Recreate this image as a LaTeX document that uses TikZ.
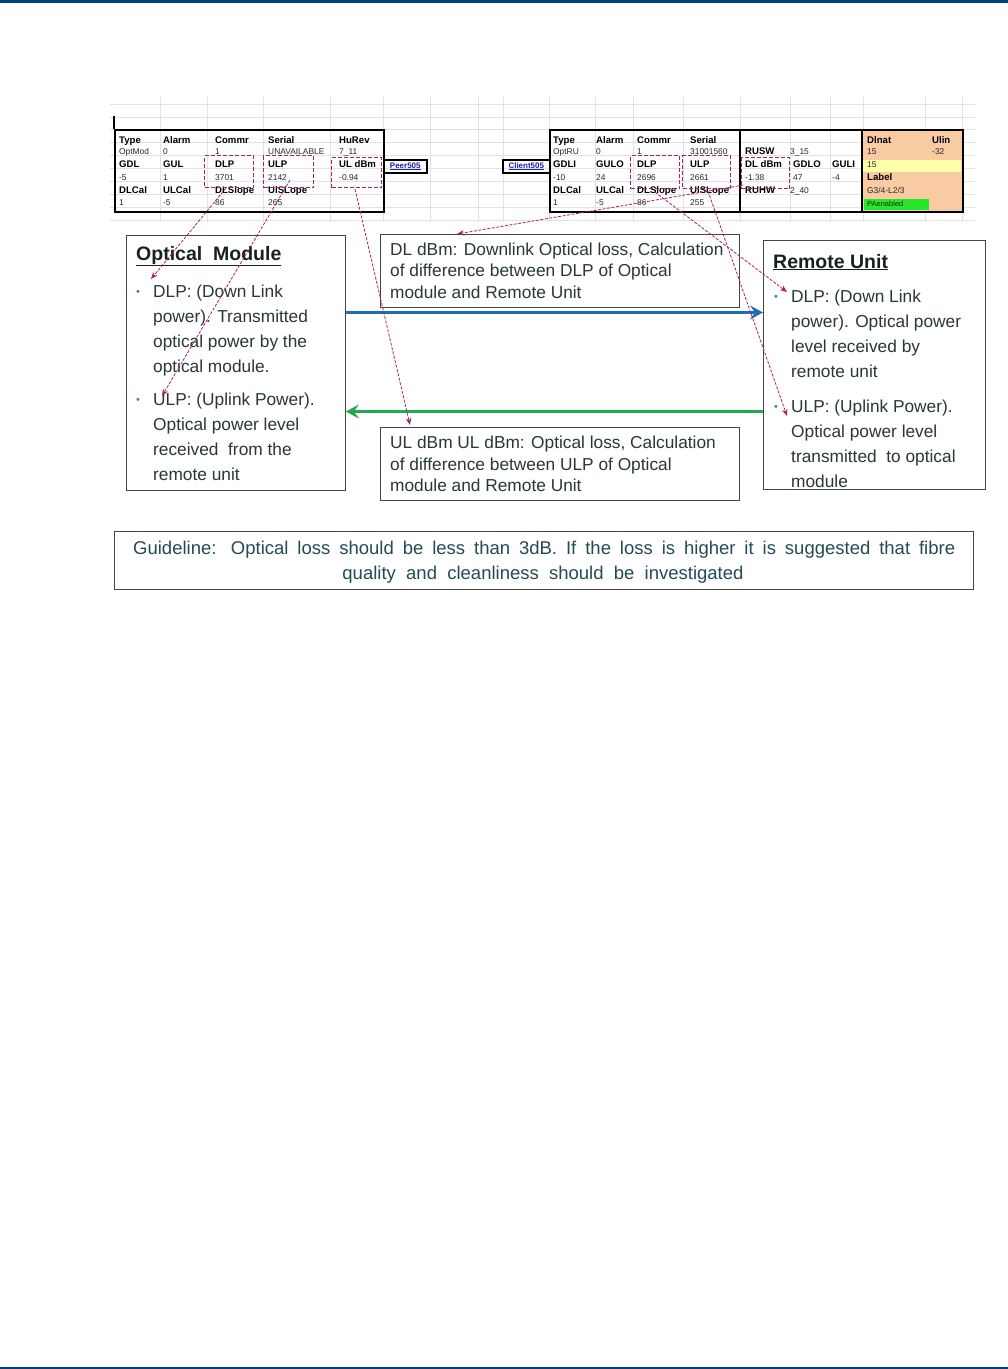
\documentclass[tikz,border=0pt]{standalone}
\usepackage{fontspec}
\setmainfont{Liberation Sans}
\usetikzlibrary{arrows.meta,calc}
\definecolor{hdrblue}{RGB}{0,64,128}
\definecolor{dred}{RGB}{165,35,95}
\definecolor{txt}{RGB}{40,55,55}
\definecolor{gtxt}{RGB}{35,75,85}
\definecolor{bulc}{RGB}{60,140,150}
\definecolor{arrblue}{RGB}{30,110,180}
\definecolor{arrgreen}{RGB}{35,170,80}
\definecolor{orangec}{RGB}{248,203,163}
\definecolor{yell}{RGB}{255,255,170}
\definecolor{greenc}{RGB}{40,230,40}
\definecolor{gridc}{RGB}{226,226,226}
\definecolor{boxdraw}{RGB}{70,70,70}
\definecolor{linkblue}{RGB}{30,30,170}
\tikzset{
  th/.style={anchor=base west, inner sep=0pt, font=\bfseries\fontsize{9.6}{10}\selectfont},
  tv/.style={anchor=base west, inner sep=0pt, text=black!85, font=\fontsize{8.4}{9}\selectfont},
  tabbox/.style={draw=black, line width=2.4pt, anchor=north west, inner sep=0pt},
  redbox/.style={draw=dred, dash pattern=on 4pt off 2pt, line width=1.1pt, anchor=north west, inner sep=0pt},
  linkbox/.style={draw=black, line width=1.6pt, anchor=north west, inner sep=0pt, minimum width=43pt, minimum height=13pt, font=\bfseries\fontsize{8}{8}\selectfont, text=linkblue},
  mainbox/.style={draw=boxdraw, line width=0.9pt, anchor=north west, inner sep=0pt},
  bt/.style={anchor=base west, inner sep=0pt, text=txt, font=\fontsize{17.3}{20}\selectfont},
  ttl/.style={anchor=base west, inner sep=0pt, text=txt!60!black, font=\bfseries\fontsize{19.5}{22}\selectfont},
  bul/.style={anchor=base west, inner sep=0pt, text=bulc, font=\fontsize{11}{12}\selectfont},
  gt/.style={inner sep=0pt, text=gtxt, font=\fontsize{18.5}{20}\selectfont},
  darr/.style={draw=dred, dash pattern=on 3pt off 1.5pt, line width=0.8pt, -{Stealth[length=7pt,width=5.5pt]}},
  bigarr/.style={line width=3pt, -{Stealth[length=13pt,width=14pt,inset=5pt]}},
}
\begin{document}
\begin{tikzpicture}[x=1pt,y=-1pt]
\useasboundingbox (0,0) rectangle (1008,1369);
\fill[hdrblue] (0,0) rectangle (1008,2.5);
\fill[hdrblue] (0,1366.5) rectangle (1008,1369);

% spreadsheet grid
\foreach \gy in {104,117,129,142,155,168,181,194,207,220}
  \draw[gridc, line width=0.6pt] (110,\gy) -- (975,\gy);
\foreach \gx in {160,207,263,330,383,430,478,503,549,595,633,683,740,790,830,863,925,962}
  \draw[gridc, line width=0.6pt] (\gx,97) -- (\gx,222);

% fills of right table
\fill[orangec] (862,129) rectangle (962,211);
\fill[yell] (863,159.5) rectangle (961,172);
\fill[greenc] (864,199) rectangle (929,210);

% table frames
\node[tabbox, minimum width=269pt, minimum height=82pt] (ltab) at (114,129) {};
\draw[line width=2.4pt] (114,116) -- (ltab.north west);
\node[tabbox, minimum width=413pt, minimum height=82pt] (rtab) at (549,129) {};
\draw[line width=2.4pt] (740,129) -- (740,211);
\draw[line width=2.4pt] (862,129) -- (862,211);

% link boxes
\node[linkbox] (peer) at (383,159) {\underline{Peer505}};
\node[linkbox, minimum width=47pt] (client) at (502,159) {\underline{Client505}};

% left table text
\foreach \x/\t [count=\i] in {119/Type,163/Alarm,215/Commr,268/Serial,339/HuRev}
  \node[th] (lA\i) at (\x,143) {\t};
\foreach \x/\t [count=\i] in {119/OptMod,163/0,215/1,268/UNAVAILABLE,339/7\_11}
  \node[tv] (lB\i) at (\x,154) {\t};
\foreach \x/\t [count=\i] in {119/GDL,163/GUL,215/DLP,268/ULP,339/UL dBm}
  \node[th] (lC\i) at (\x,167) {\t};
\foreach \x/\t [count=\i] in {119/-5,163/1,215/3701,268/2142,339/-0.94}
  \node[tv] (lD\i) at (\x,180) {\t};
\foreach \x/\t [count=\i] in {119/DLCal,163/ULCal,215/DLSlope,268/UlSLope}
  \node[th] (lE\i) at (\x,193) {\t};
\foreach \x/\t [count=\i] in {119/1,163/-5,215/86,268/265}
  \node[tv] (lF\i) at (\x,205) {\t};

% right table text
\foreach \x/\t [count=\i] in {553/Type,596/Alarm,637/Commr,690/Serial}
  \node[th] (rA\i) at (\x,143) {\t};
\foreach \x/\t [count=\i] in {553/OptRU,596/0,637/1,690/31001560}
  \node[tv] (rB\i) at (\x,154) {\t};
\foreach \x/\t [count=\i] in {553/GDLI,596/GULO,637/DLP,690/ULP}
  \node[th] (rC\i) at (\x,167) {\t};
\foreach \x/\t [count=\i] in {553/-10,596/24,637/2696,690/2661}
  \node[tv] (rD\i) at (\x,180) {\t};
\foreach \x/\t [count=\i] in {553/DLCal,596/ULCal,637/DLSlope,690/UlSLope}
  \node[th] (rE\i) at (\x,193) {\t};
\foreach \x/\t [count=\i] in {553/1,596/-5,637/86,690/255}
  \node[tv] (rF\i) at (\x,205) {\t};
% section 2
\node[th] (sRUSW) at (745,154) {RUSW};
\node[tv] (sRUSWv) at (790,154) {3\_15};
\node[th] (sDLdBm) at (745,167) {DL dBm};
\node[th] (sGDLO) at (793,167) {GDLO};
\node[th] (sGULI) at (832,167) {GULI};
\node[tv] (sDLv) at (745,180) {-1.38};
\node[tv] (sGDLOv) at (793,180) {47};
\node[tv] (sGULIv) at (832,180) {-4};
\node[th] (sRUHW) at (745,193) {RUHW};
\node[tv] (sRUHWv) at (790,193) {2\_40};
% orange section
\node[th] (oDl) at (867,143) {Dlnat};
\node[th] (oUl) at (932,143) {Ulin};
\node[tv] (oDlv) at (867,154) {15};
\node[tv] (oUlv) at (932,154) {-32};
\node[tv] (oY) at (867,167) {15};
\node[th] (oLab) at (867,180) {Label};
\node[tv] (oLabv) at (867,193) {G3/4-L2/3};
\node[tv, font=\fontsize{7.5}{8}\selectfont] (oPA) at (867,206) {PAenabled};

% red dashed boxes
\node[redbox, minimum width=49pt, minimum height=32pt] (rdlpL) at (204,155) {};
\node[redbox, minimum width=50pt, minimum height=32pt] (rulpL) at (263,155) {};
\node[redbox, minimum width=50pt, minimum height=30pt] (ruldbm) at (331,157) {};
\node[redbox, minimum width=49pt, minimum height=33pt] (rdlpR) at (630,155) {};
\node[redbox, minimum width=48pt, minimum height=33pt] (rulpR) at (682,155) {};
\node[redbox, minimum width=48pt, minimum height=31pt] (rdldbm) at (741,157) {};

% main boxes
\node[mainbox, minimum width=219pt, minimum height=255pt] (om) at (126,235) {};
\node[mainbox, minimum width=359pt, minimum height=73pt] (dlb) at (380,234) {};
\node[mainbox, minimum width=359pt, minimum height=73pt] (ulb) at (380,427) {};
\node[mainbox, minimum width=222pt, minimum height=249pt] (ru) at (763,240) {};
\node[mainbox, minimum width=859pt, minimum height=58pt] (gl) at (114,531) {};

% Optical Module text
\node[ttl] (omT) at (136,260) {\underline{Optical\ \ Module}};
\node[bul] (omB1) at (136,295) {•};
\node[bul] (omB2) at (136,403) {•};
\node[bt] (om1) at (153,297) {DLP: (Down Link};
\node[bt] (om2) at (153,322) {power). Transmitted};
\node[bt] (om3) at (153,347) {optical power by the};
\node[bt] (om4) at (153,372) {optical module.};
\node[bt] (om5) at (153,405) {ULP: (Uplink Power).};
\node[bt] (om6) at (153,430) {Optical power level};
\node[bt] (om7) at (153,455) {received\ \ from the};
\node[bt] (om8) at (153,480) {remote unit};

% DL dBm box text
\node[bt] (dl1) at (390,255) {DL dBm: Downlink Optical loss, Calculation};
\node[bt] (dl2) at (390,276.5) {of difference between DLP of Optical};
\node[bt] (dl3) at (390,298) {module and Remote Unit};

% UL dBm box text
\node[bt] (ul1) at (390,448) {UL dBm UL dBm: Optical loss, Calculation};
\node[bt] (ul2) at (390,470) {of difference between ULP of Optical};
\node[bt] (ul3) at (390,491) {module and Remote Unit};

% Remote Unit text
\node[ttl] (ruT) at (773,268) {\underline{Remote Unit}};
\node[bul] (ruB1) at (774,300) {•};
\node[bul] (ruB2) at (774,410) {•};
\node[bt] (ru1) at (791,302) {DLP: (Down Link};
\node[bt] (ru2) at (791,327) {power). Optical power};
\node[bt] (ru3) at (791,352) {level received by};
\node[bt] (ru4) at (791,377) {remote unit};
\node[bt] (ru5) at (791,412) {ULP: (Uplink Power).};
\node[bt] (ru6) at (791,437) {Optical power level};
\node[bt] (ru7) at (791,462) {transmitted\ \ to optical};
\node[bt] (ru8) at (791,487) {module};
\draw[boxdraw, line width=0.9pt] (ru.south west) -- (ru.south east);

% Guideline text
\node[gt, anchor=base west] (gl1) at (133,554) {\makebox[822pt][s]{Guideline: Optical loss should be less than 3dB. If the loss is higher it is suggested that fibre}};
\node[gt, anchor=base] (gl2) at (543,579) {quality\ \ and\ \ cleanliness\ \ should\ \ be\ \ investigated};

% big arrows
\coordinate (ybl) at (0,312.5);
\coordinate (ygr) at (0,411.5);
\draw[bigarr, arrblue] (om.east |- ybl) -- (ru.west |- ybl);
\draw[bigarr, arrgreen] (ru.west |- ygr) -- (om.east |- ygr);

% dashed arrows
\coordinate (eOmDlp) at (151,279);
\coordinate (eOmUlp) at (162,396);
\coordinate (eUlb) at (410,425);
\coordinate (eDlb) at (457,234);
\coordinate (eRuDlp) at (787,292);
\coordinate (eRuUlp) at (787,416);
\draw[darr] ($(rdlpL.south west)+(22,0)$) -- (eOmDlp);
\draw[darr] ($(rulpL.north west)+(27,25)$) -- (eOmUlp);
\draw[darr] ($(ruldbm.south west)+(24,1)$) -- (eUlb);
\draw[darr] ($(rdldbm.south west)+(2,-4)$) -- (eDlb);
\draw[darr] ($(rdlpR.south west)+(25,3)$) -- (eRuDlp);
\draw[darr] ($(rulpR.south west)+(26,2)$) -- (eRuUlp);
\end{tikzpicture}
\end{document}
